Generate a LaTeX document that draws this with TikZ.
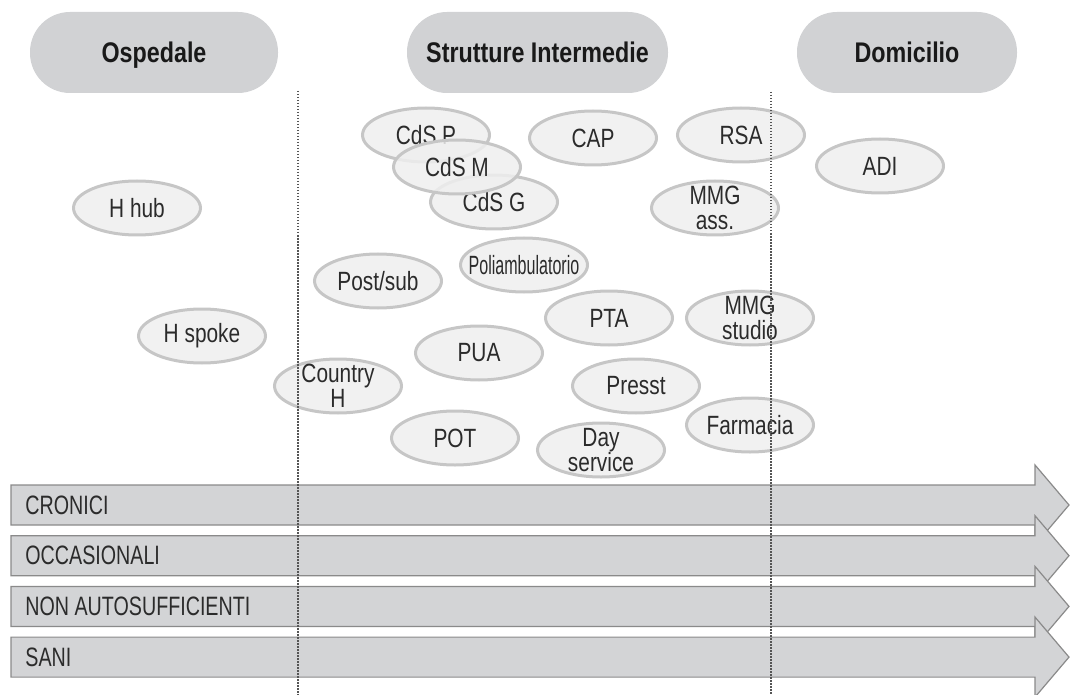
\documentclass[tikz,border=0pt]{standalone}
\usepackage{fontspec}
\usepackage{graphicx}
\setmainfont[FakeStretch=0.79]{Liberation Sans}
\newfontfamily\hdrfont[FakeStretch=0.82]{Liberation Sans}
\newfontfamily\barfont[FakeStretch=0.74]{Liberation Sans}
\usetikzlibrary{shapes}
\definecolor{pillgray}{HTML}{D1D2D4}
\definecolor{ovfill}{HTML}{EFEFEF}
\definecolor{ovline}{HTML}{C6C6C6}
\definecolor{txtgray}{HTML}{2B2B2B}
\definecolor{bargray}{HTML}{D3D4D6}
\definecolor{barline}{HTML}{8A8A8A}
\definecolor{sepgray}{HTML}{555555}

\begin{document}
\begin{tikzpicture}[x=0.5pt,y=-0.5pt,
    hdr/.style={rectangle,rounded corners=20pt,fill=pillgray,minimum width=#1,minimum height=40.5pt,
        text height=10.2pt,text depth=0pt,
        font=\hdrfont\bfseries\fontsize{14.2}{16}\selectfont,text=black!90},
    oval/.style={ellipse,draw=ovline,line width=1.5pt,fill=ovfill,fill opacity=0.85,
        minimum width=63.5pt,minimum height=27pt,inner sep=0pt,label={[ovtext]center:#1}},
    ovtext/.style={align=center,inner sep=0pt,text opacity=1,text=txtgray,font=\fontsize{13.2}{12.5}\selectfont},
    bar/.style={fill=bargray,draw=barline,line width=0.6pt,line join=miter},
    bartext/.style={anchor=west,inner sep=0pt,text=txtgray,font=\barfont\fontsize{13.3}{15}\selectfont},
    sep/.style={draw=sepgray,line width=0.9pt,dash pattern=on 0.75pt off 0.75pt}]
    \useasboundingbox (0,0) rectangle (1070,695);

    % column headers
    \node[hdr=124pt] (ospedale) at (154,52.5) {Ospedale};
    \node[hdr=130.5pt] (strutture) at (537.5,52.5) {Strutture Intermedie};
    \node[hdr=110pt] (domicilio) at (907,52.5) {Domicilio};

    % services
    \node[oval={H hub}] (hhub) at (137,208) {};
    \node[oval={CdS P}] (cdsp) at (426,135) {};
    \node[oval={CdS G}] (cdsg) at (494,202) {};
    \node[oval={CdS M}] (cdsm) at (457,167) {};
    \node[oval={CAP}] (cap) at (593,138) {};
    \node[oval={RSA}] (rsa) at (741,135) {};
    \node[oval={ADI}] (adi) at (880,166) {};
    \node[oval={MMG\\ass.}] (mmgass) at (715,208) {};
    \node[oval={Post/sub}] (postsub) at (378,281) {};
    \node[oval={\scalebox{0.77}[1]{Poliambulatorio}}] (poliamb) at (524,265) {};
    \node[oval={PTA}] (pta) at (609,318) {};
    \node[oval={MMG\\studio}] (mmgstudio) at (750,318) {};
    \node[oval={H spoke}] (hspoke) at (202,336) {};
    \node[oval={Country\\H}] (countryh) at (338,386) {};
    \node[oval={PUA}] (pua) at (479,353) {};
    \node[oval={Presst}] (presst) at (636,386) {};
    \node[oval={Farmacia}] (farmacia) at (750,425) {};
    \node[oval={POT}] (pot) at (455,438) {};
    \node[oval={Day\\service}] (dayservice) at (601,450) {};

    % patient groups
    \foreach \yc/\txt [count=\i] in {505/CRONICI,555.7/OCCASIONALI,606.4/NON AUTOSUFFICIENTI,657.1/SANI}{
        \draw[bar] (11,\yc-20) -- (1035,\yc-20) -- (1035,\yc-40) -- (1069,\yc)
            -- (1035,\yc+40) -- (1035,\yc+20) -- (11,\yc+20) -- cycle;
        \node[bartext] (group\i) at (25,\yc) {\txt};
    }

    % separators
    \coordinate (sepL top) at (298,91);
    \coordinate (sepL bot) at (298,695);
    \coordinate (sepR top) at (771,92);
    \coordinate (sepR bot) at (771,695);
    \draw[sep] (sepL top) -- (sepL bot);
    \draw[sep] (sepR top) -- (sepR bot);
\end{tikzpicture}
\end{document}
